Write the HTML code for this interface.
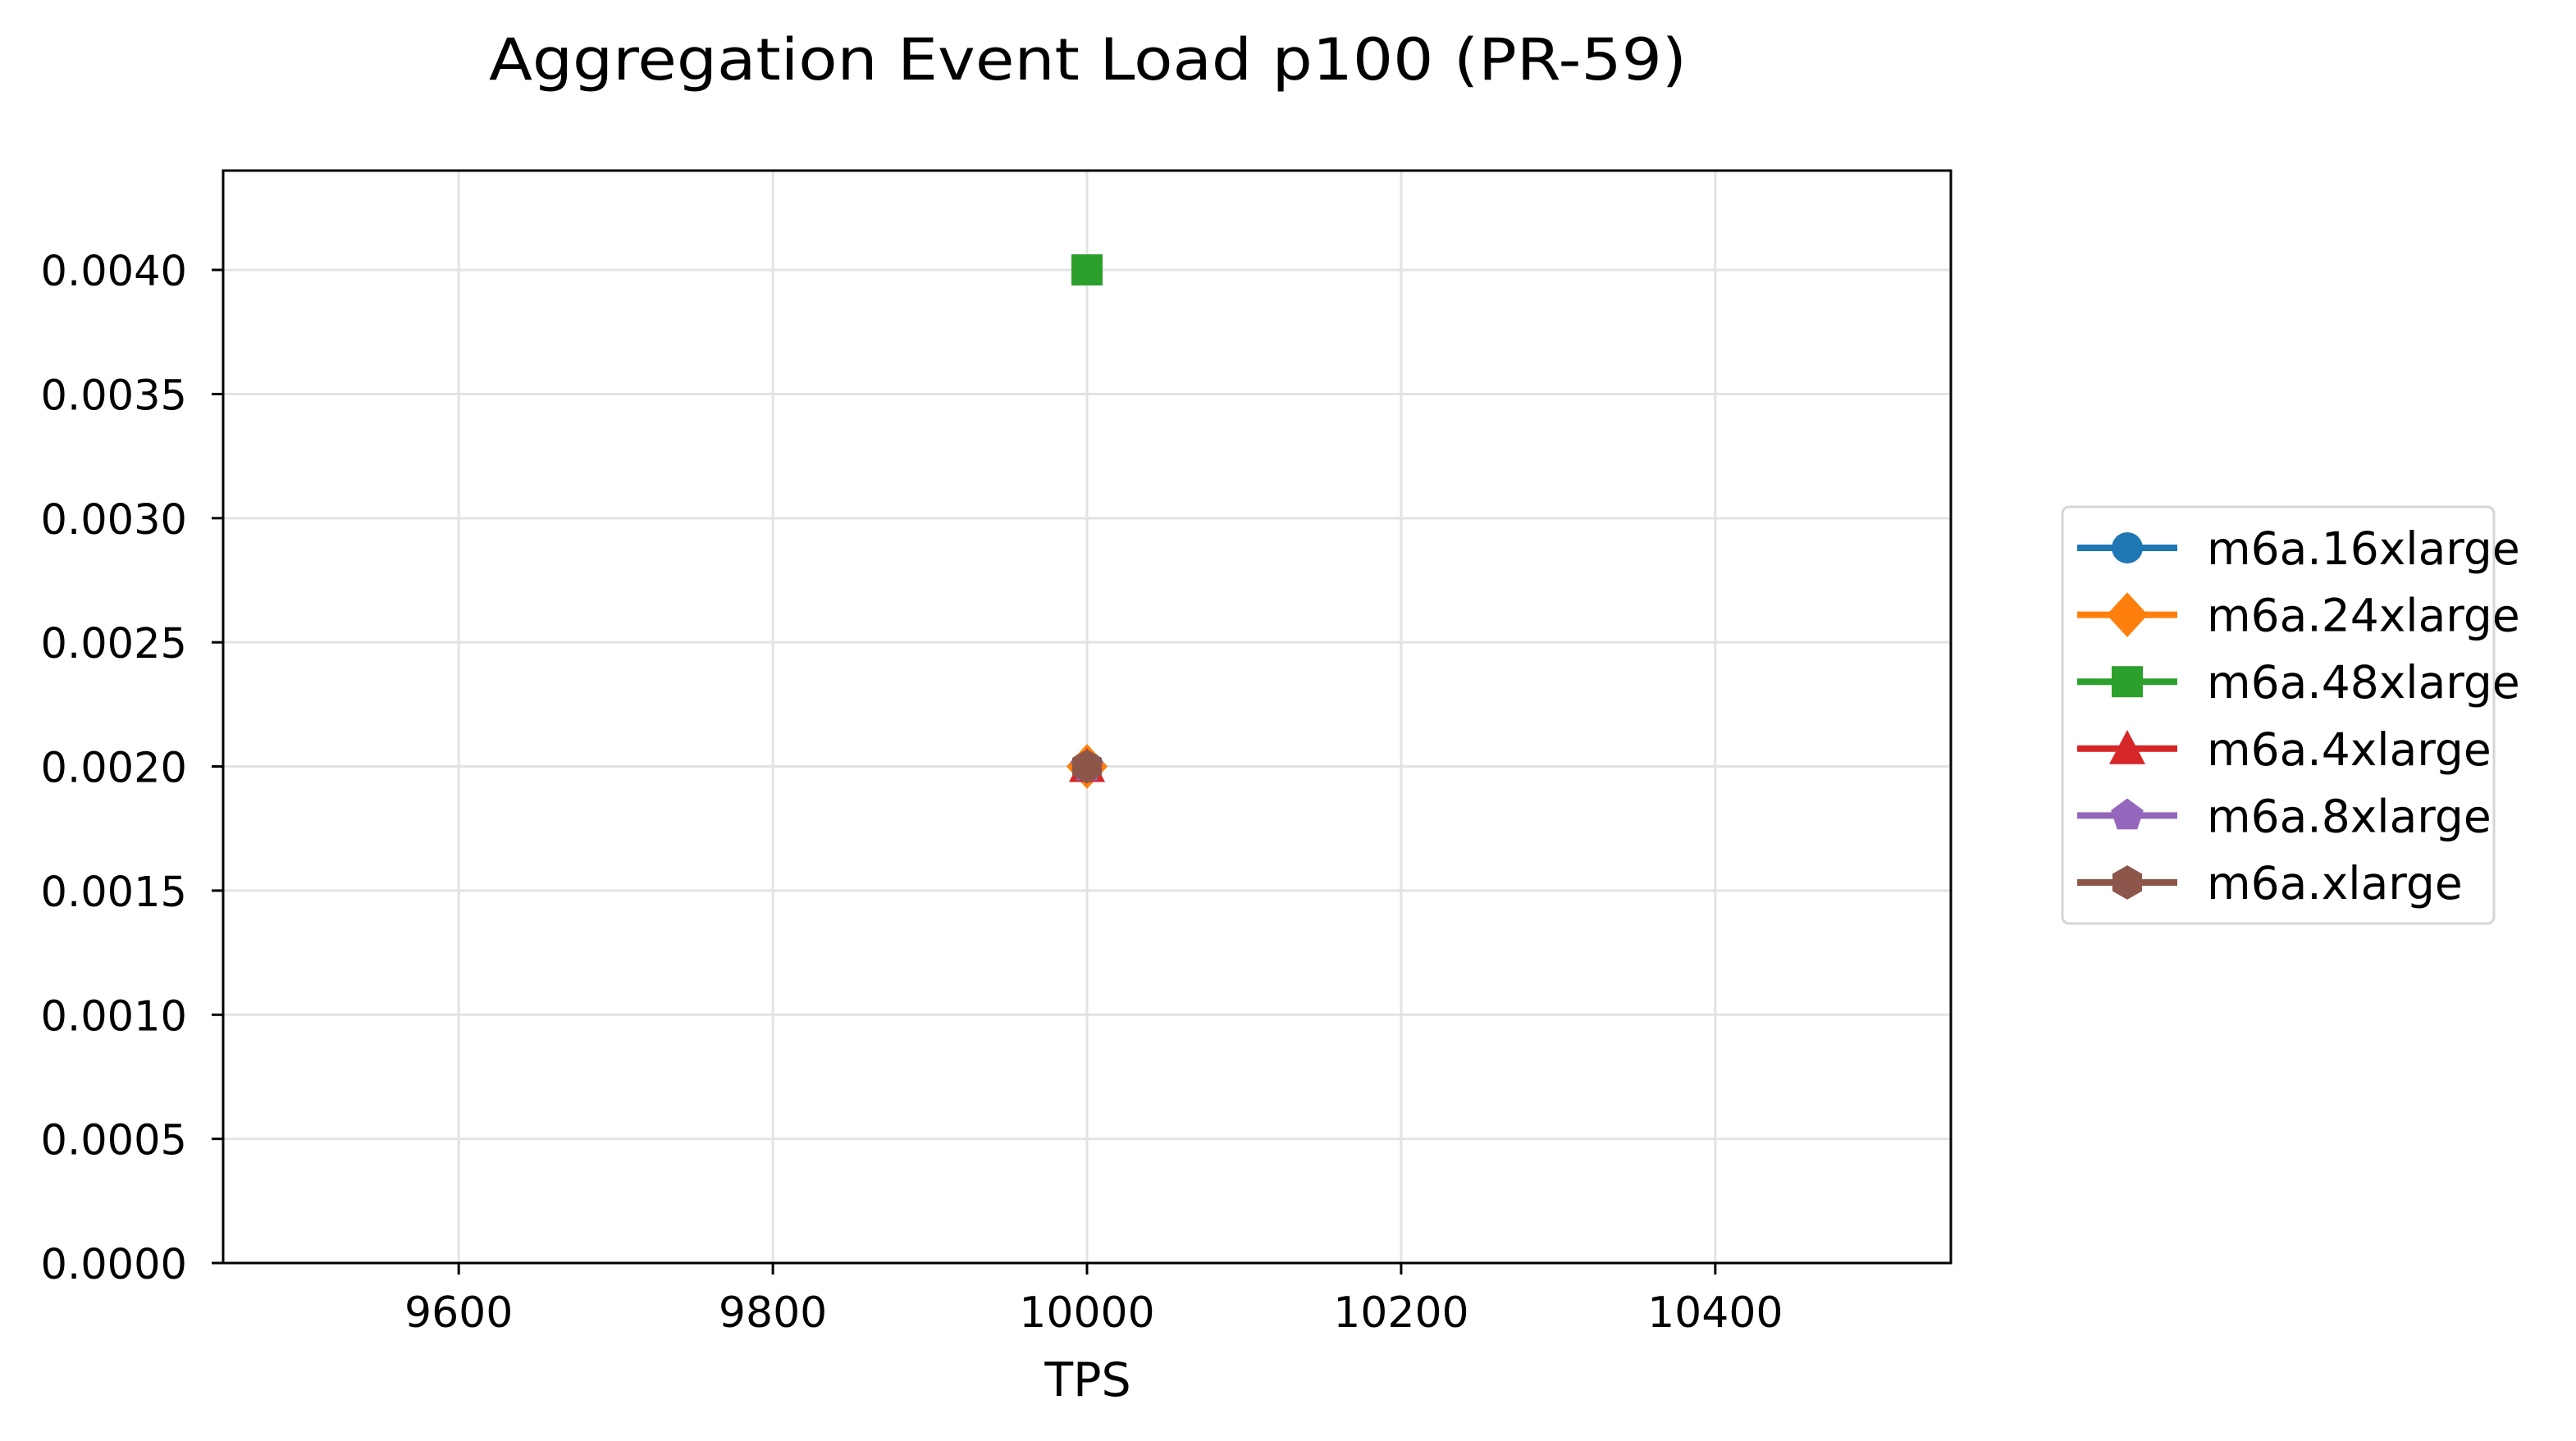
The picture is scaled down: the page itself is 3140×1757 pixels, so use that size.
<!DOCTYPE html>
<html><head><meta charset="utf-8"><style>
html,body{margin:0;padding:0;background:#fff;}
svg{display:block;font-family:"DejaVu Sans","Liberation Sans",sans-serif;}
</style></head><body>
<svg id="chart" width="3140" height="1757" viewBox="0 0 3140 1757" xmlns="http://www.w3.org/2000/svg">
<rect width="3140" height="1757" fill="#fff"/>
<text x="1326" y="97" text-anchor="middle" font-size="70" textLength="1460" lengthAdjust="spacingAndGlyphs" fill="#000">Aggregation Event Load p100 (PR-59)</text>
<g id="grid"></g>
<g id="axes"></g>
<g id="marks"></g>
<rect x="272" y="208" width="2106" height="1332" fill="none" stroke="#000" stroke-width="3"/>
<text x="1326" y="1702" text-anchor="middle" font-size="57" fill="#000">TPS</text>
<g id="legend"></g>
</svg>
<script>
const seriesNames = ["m6a.16xlarge","m6a.24xlarge","m6a.48xlarge","m6a.4xlarge","m6a.8xlarge","m6a.xlarge"];
const seriesColors = ["#1f77b4","#ff7f0e","#2ca02c","#d62728","#9467bd","#8c564b"];
const seriesMarkers = ["circle","diamond","square","triangle","pentagon","hexagon"];
const seriesX = [[10000],[10000],[10000],[10000],[10000],[10000]];
const seriesY = [[0.002],[0.002],[0.004],[0.002],[0.002],[0.002]];
const xTicks = [9600,9800,10000,10200,10400];
const yTicks = [0,0.0005,0.001,0.0015,0.002,0.0025,0.003,0.0035,0.004];
const yTickLabels = ["0.0000","0.0005","0.0010","0.0015","0.0020","0.0025","0.0030","0.0035","0.0040"];

const L=272,R=2378,T=208,B=1540, xMin=9450,xMax=10550,yMin=0,yMax=0.0044;
const sx=v=>L+(v-xMin)/(xMax-xMin)*(R-L);
const sy=v=>B-(v-yMin)/(yMax-yMin)*(B-T);
const NS="http://www.w3.org/2000/svg";
function mk(tag,attrs,parent){const e=document.createElementNS(NS,tag);for(const k in attrs)e.setAttribute(k,attrs[k]);parent.appendChild(e);return e;}
const grid=document.getElementById('grid'),axes=document.getElementById('axes'),marks=document.getElementById('marks'),legend=document.getElementById('legend');

xTicks.forEach(v=>{
  const x=sx(v);
  const g=mk('line',{x1:x,x2:x,y1:T,y2:B,stroke:'#e3e3e3','stroke-width':3},grid);
  
  
  const t=mk('line',{x1:x,x2:x,y1:B,y2:B+14,stroke:'#000','stroke-width':3},axes);
  
  
  const l=mk('text',{x:x,y:B+78,'text-anchor':'middle','font-size':52,fill:'#000'},axes);
  l.textContent=String(v);
  
  
});
yTicks.forEach((v,i)=>{
  const y=sy(v);
  const g=mk('line',{x1:L,x2:R,y1:y,y2:y,stroke:'#e3e3e3','stroke-width':3},grid);
  
  
  const t=mk('line',{x1:L-14,x2:L,y1:y,y2:y,stroke:'#000','stroke-width':3},axes);
  
  
  const l=mk('text',{x:L-44,y:y+19,'text-anchor':'end','font-size':51,fill:'#000'},axes);
  l.textContent=yTickLabels[i];
  
  
});

function marker(type,cx,cy,s,color,parent){
  let pts=[];
  if(type==='circle') return mk('circle',{cx:cx,cy:cy,r:s*0.5,fill:color},parent);
  if(type==='square') return mk('rect',{x:cx-s*0.5,y:cy-s*0.5,width:s,height:s,fill:color},parent);
  if(type==='diamond') pts=[[0,-0.72],[0.66,0],[0,0.72],[-0.66,0]];
  if(type==='triangle') pts=[[0,-0.6],[0.58,0.5],[-0.58,0.5]];
  if(type==='pentagon'){for(let k=0;k<5;k++){const a=-Math.PI/2+k*2*Math.PI/5;pts.push([0.55*Math.cos(a),0.55*Math.sin(a)]);}}
  if(type==='hexagon'){for(let k=0;k<6;k++){const a=-Math.PI/2+k*Math.PI/3;pts.push([0.55*Math.cos(a),0.55*Math.sin(a)]);}}
  return mk('polygon',{points:pts.map(p=>(cx+p[0]*s)+','+(cy+p[1]*s)).join(' '),fill:color},parent);
}

seriesNames.forEach((n,i)=>{
  const g=mk('g',{},marks);
  
  
  if(seriesX[i].length>1){
    const p=mk('polyline',{points:seriesX[i].map((x,j)=>sx(x)+','+sy(seriesY[i][j])).join(' '),fill:'none',stroke:seriesColors[i],'stroke-width':8},g);
    
    
  }
  seriesX[i].forEach((x,j)=>{
    const m=marker(seriesMarkers[i],sx(x),sy(seriesY[i][j]),38,seriesColors[i],g);
    
    
  });
});

const box=mk('rect',{x:2514,y:618,width:526,height:508,rx:8,fill:'#fff',stroke:'#d6d6d6','stroke-width':3},legend);


seriesNames.forEach((n,i)=>{
  const y=668+i*81.6;
  const g=mk('g',{},legend);
  
  
  mk('line',{x1:2532,x2:2654,y1:y,y2:y,stroke:seriesColors[i],'stroke-width':8},g);
  marker(seriesMarkers[i],2593,y,38,seriesColors[i],g);
  const t=mk('text',{x:2690,y:y+20,'font-size':55,fill:'#000'},g);
  t.textContent=n;
  
  
});
</script>
</body></html>
